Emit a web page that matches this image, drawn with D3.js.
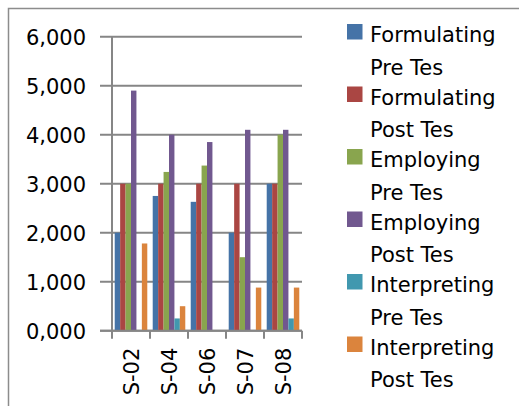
<!DOCTYPE html>
<html>
<head>
<meta charset="utf-8">
<script src="https://cdn.jsdelivr.net/npm/d3@7"></script>
<style>
  body { margin: 0; background: #fff; }
  text { font-family: "DejaVu Sans", sans-serif; fill: #000; }
</style>
</head>
<body>
<svg id="chart" width="519" height="406"></svg>
<script>
const svg = d3.select("#chart");
const width = +svg.attr("width");
const height = +svg.attr("height");

// data
const categories = ["S-02", "S-04", "S-06", "S-07", "S-08"];
const seriesNames = [
  "Formulating Pre Tes", "Formulating Post Tes",
  "Employing Pre Tes", "Employing Post Tes",
  "Interpreting Pre Tes", "Interpreting Post Tes"
];
const formulatingPre  = [2.0, 2.75, 2.63, 2.0, 3.0];
const formulatingPost = [3.0, 3.0, 3.0, 3.0, 3.0];
const employingPre    = [3.0, 3.24, 3.37, 1.5, 4.0];
const employingPost   = [4.9, 4.0, 3.85, 4.1, 4.1];
const interpretingPre = [0, 0.25, 0, 0, 0.25];
const interpretingPost = [1.78, 0.5, 0, 0.88, 0.88];
const yTicks = [0, 1, 2, 3, 4, 5, 6];
const colors = ["#4573A7", "#AA4643", "#89A54E", "#71588F", "#4198AF", "#DB843D"];

const allSeries = [formulatingPre, formulatingPost, employingPre, employingPost, interpretingPre, interpretingPost];

// outer frame (only top and left visible)
svg.append("rect")
  .attr("x", 8.5).attr("y", 8.5)
  .attr("width", 700).attr("height", 700)
  .attr("fill", "none")
  .attr("stroke", "#8c8c8c")
  .attr("stroke-width", 1.5);

const plot = { left: 112, right: 302, top: 36.7, bottom: 330.7 };

const x = d3.scaleBand().domain(categories).range([plot.left, plot.right]);
const x1 = d3.scaleBand().domain(d3.range(seriesNames.length))
  .range([0, x.bandwidth()]).paddingOuter(0.5).paddingInner(0);
const y = d3.scaleLinear().domain([0, 6]).range([plot.bottom, plot.top]);

const fmt = v => d3.format(".3f")(v).replace(".", ",");

// gridlines
svg.append("g").selectAll("line")
  .data(yTicks)
  .join("line")
  .attr("x1", plot.left - 12).attr("x2", plot.right)
  .attr("y1", d => y(d)).attr("y2", d => y(d))
  .attr("stroke", "#868686").attr("stroke-width", 2);

// y labels
svg.append("g").selectAll("text")
  .data(yTicks)
  .join("text")
  .attr("x", 86).attr("y", d => y(d) + 8)
  .attr("text-anchor", "end")
  .attr("font-size", 21)
  .text(fmt);

// bars
const groups = svg.append("g").selectAll("g")
  .data(categories)
  .join("g")
  .attr("transform", d => `translate(${x(d)},0)`);

groups.selectAll("rect")
  .data((c, ci) => allSeries.map((s, si) => ({ si, v: s[ci] })))
  .join("rect")
  .attr("x", d => x1(d.si))
  .attr("width", x1.bandwidth())
  .attr("y", d => y(d.v))
  .attr("height", d => y(0) - y(d.v))
  .attr("fill", d => colors[d.si]);

// axes lines
svg.append("line")
  .attr("x1", plot.left).attr("x2", plot.left)
  .attr("y1", plot.top).attr("y2", plot.bottom)
  .attr("stroke", "#868686").attr("stroke-width", 2);
svg.append("line")
  .attr("x1", plot.left - 12).attr("x2", plot.right)
  .attr("y1", plot.bottom).attr("y2", plot.bottom)
  .attr("stroke", "#868686").attr("stroke-width", 2);

// x ticks
const xTickPos = categories.map(c => x(c)).concat([plot.right]);
svg.append("g").selectAll("line")
  .data(xTickPos)
  .join("line")
  .attr("x1", d => d).attr("x2", d => d)
  .attr("y1", plot.bottom).attr("y2", plot.bottom + 8)
  .attr("stroke", "#868686").attr("stroke-width", 2);

// x labels (rotated)
svg.append("g").selectAll("text")
  .data(categories)
  .join("text")
  .attr("transform", d => `translate(${x(d) + x.bandwidth() / 2},${plot.bottom + 17}) rotate(-90)`)
  .attr("text-anchor", "end")
  .attr("dy", "0.36em")
  .attr("font-size", 21)
  .text(d => d);

// legend
const legend = svg.append("g").attr("transform", "translate(347,42)");
const items = legend.selectAll("g")
  .data(seriesNames)
  .join("g")
  .attr("transform", (d, i) => `translate(0,${i * 62.5})`);
items.append("rect")
  .attr("x", 0).attr("y", -18)
  .attr("width", 15.5).attr("height", 15.5)
  .attr("fill", (d, i) => colors[i]);
items.each(function (d) {
  const words = d.split(" ");
  const first = words[0];
  const rest = words.slice(1).join(" ");
  const t = d3.select(this).append("text").attr("font-size", 21);
  t.append("tspan").attr("x", 23).attr("y", 0).text(first);
  t.append("tspan").attr("x", 23).attr("y", 32.6).text(rest);
});
</script>
</body>
</html>
